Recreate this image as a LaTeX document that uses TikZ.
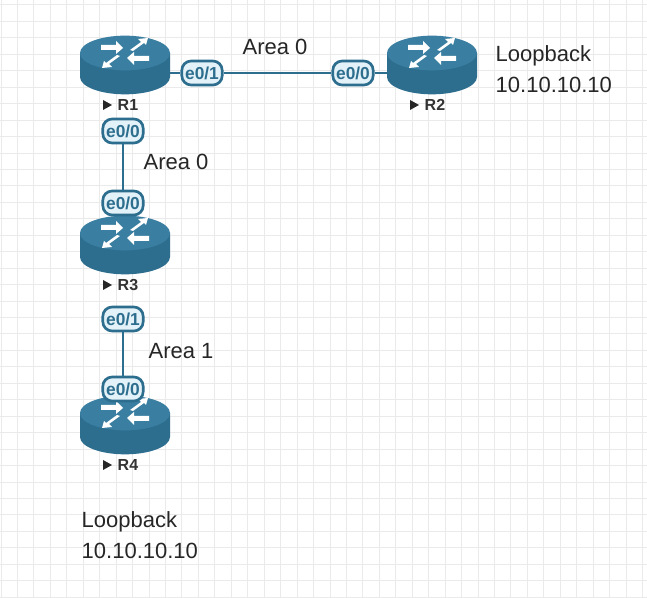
\documentclass[tikz,border=0pt]{standalone}
\usepackage{fontspec}
\setmainfont{Liberation Sans}
\begin{document}
\begin{tikzpicture}[x=0.75pt,y=-0.75pt,
  port/.style={draw=rtr,line width=2pt,fill=portfill,rounded corners=7pt,inner sep=2.5pt,minimum height=18pt,font=\bfseries\fontsize{13}{14}\selectfont,text=rtr},
  lnk/.style={draw=rtr,line width=1.5pt},
  lbl/.style={font=\fontsize{16.5}{18}\selectfont,text=black!85},
  rname/.style={font=\bfseries\fontsize{12}{13}\selectfont,text=black!80}]
\definecolor{rtr}{HTML}{2D6E8E}
\definecolor{rtrtop}{HTML}{3A7FA2}
\definecolor{portfill}{HTML}{E3F1F8}
\definecolor{gridc}{HTML}{EAEAEA}
\fill[white] (0,0) rectangle (647,598);
\useasboundingbox (0,0) rectangle (647,598);
\foreach \i in {0,...,39} {\draw[gridc,line width=0.75pt] (\i*16.45+1,0) -- (\i*16.45+1,598);}
\foreach \i in {0,...,36} {\draw[gridc,line width=0.75pt] (0,\i*16.45+5) -- (647,\i*16.45+5);}
\newcommand{\router}[3]{%
  \begin{scope}[shift={(#1,#2)}]
    \fill[rtr] (-45,-10) -- (-45,14) arc[start angle=180,end angle=360,x radius=33.75pt,y radius=13pt] -- (45,-10) -- cycle;
    \fill[rtrtop] (0,-10) ellipse[x radius=33.75pt,y radius=13pt];
    \fill[white] (-24,-18) -- (-9,-18) -- (-9,-22) -- (-2,-15) -- (-9,-9) -- (-9,-13) -- (-24,-13) -- cycle;
    \fill[white] (24,-2) -- (9,-2) -- (9,2) -- (2,-5) -- (9,-11) -- (9,-7) -- (24,-7) -- cycle;
    \fill[white] (5,-13) -- (16,-21) -- (13,-24) -- (23,-25) -- (21,-18) -- (19,-20) -- (8,-12) -- cycle;
    \fill[white] (-5,-7) -- (-16,1) -- (-13,4) -- (-23,5) -- (-21,-2) -- (-19,0) -- (-8,-8) -- cycle;
  \end{scope}
  \node[rname,anchor=west] (#3) at (#1-12,#2+42) {R#3};
  \fill[black!85] (#1-22,#2+37) -- (#1-22,#2+47) -- (#1-13,#2+42) -- cycle;
}
\router{125}{63}{1}
\router{432}{63}{2}
\router{125}{243}{3}
\router{125}{423}{4}
\node[port] (p11) at (202,73) {e0/1};
\node[port] (p20) at (353,73) {e0/0};
\node[port] (p10) at (123,131) {e0/0};
\node[port] (p30) at (123,203) {e0/0};
\node[port] (p31) at (123,319) {e0/1};
\node[port] (p40) at (123,389) {e0/0};
\draw[lnk] (p11) -- (p20);
\draw[lnk] (p10) -- (p30);
\draw[lnk] (p31) -- (p40);
\draw[rtr,line width=1.5pt] (168,73) -- (p11.west);
\draw[rtr,line width=1.5pt] (p20.east) -- (388,73);
\node[lbl] (a0) at (275,47) {Area 0};
\node[lbl] (a0b) at (176,162) {Area 0};
\node[lbl] (a1) at (181,351) {Area 1};
\node[lbl,anchor=west,align=left] (lb2) at (491,69) {Loopback\\[5pt]10.10.10.10};
\node[lbl,anchor=west,align=left] (lb4) at (77,535) {Loopback\\[5pt]10.10.10.10};
\end{tikzpicture}
\end{document}
